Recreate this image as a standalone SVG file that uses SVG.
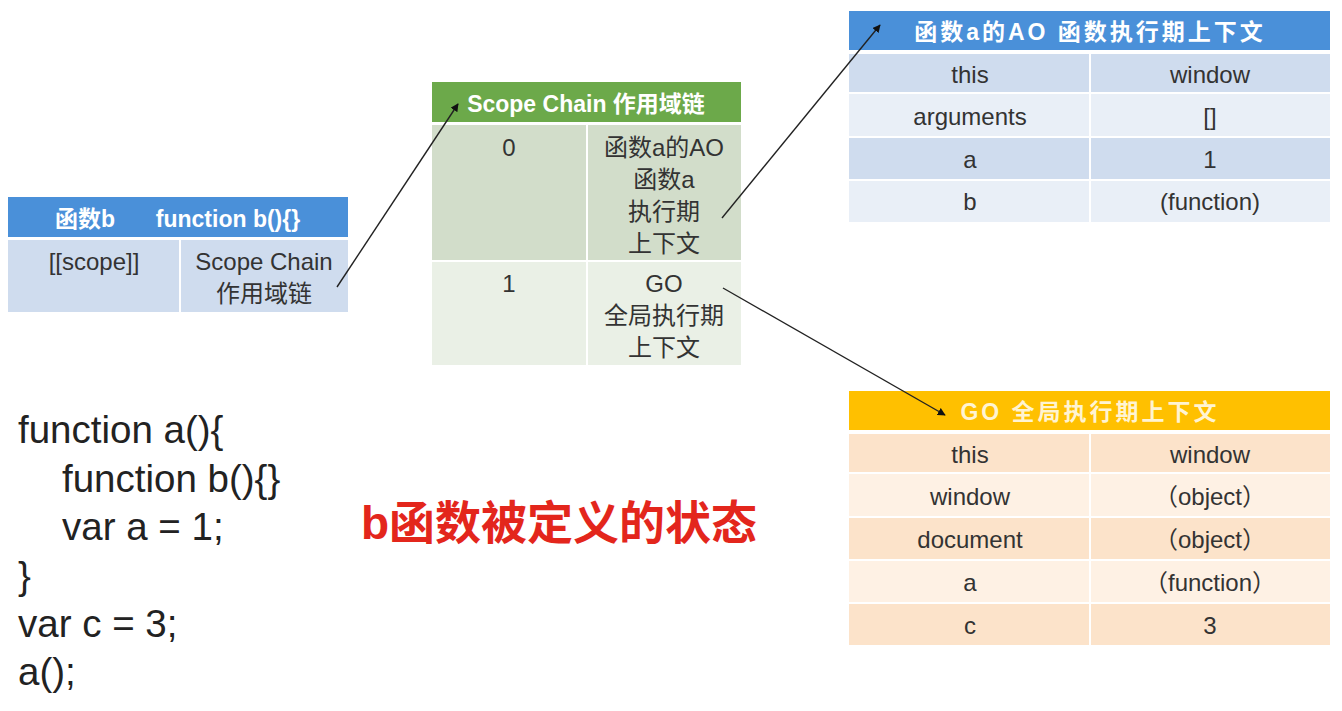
<svg xmlns="http://www.w3.org/2000/svg" width="1342" height="711" viewBox="0 0 1342 711">
  <style>
    text { font-family: "Liberation Sans", "Noto Sans CJK SC", sans-serif; fill: #333; }
    .cell { font-size: 24px; text-anchor: middle; }
    .head { font-size: 23px; font-weight: bold; fill: #fff; text-anchor: middle; }
    .code { font-size: 38.5px; fill: #222; }
    .title { font-size: 46px; font-weight: bold; fill: #e3261c; }
    .sep { stroke: #fff; stroke-width: 2; }
    .hBlue { fill: #4a90d9; }
    .rBlueD { fill: #cfdcee; }
    .rBlueL { fill: #e9eff7; }
    .hGreen { fill: #6ca94a; }
    .rGreenD { fill: #d2ddca; }
    .rGreenL { fill: #eaf0e6; }
    .hOrange { fill: #ffc000; }
    .rOrangeD { fill: #fce3ca; }
    .rOrangeL { fill: #fef1e4; }
    .conn { stroke: #222; stroke-width: 1.4; fill: none; marker-end: url(#arrow); }
  </style>
  <defs>
    <marker id="arrow" viewBox="0 0 10 10" refX="9" refY="5" markerWidth="8" markerHeight="8" orient="auto" markerUnits="userSpaceOnUse">
      <path d="M0,0 L10,5 L0,10 z" fill="#111"/>
    </marker>
  </defs>

  <rect width="1342" height="711" fill="#fff"/>

  <!-- function b object -->
  <g id="node-func-b">
    <rect class="hBlue" x="8" y="197" width="340" height="40"/>
    <text class="head" x="85" y="227">函数b</text>
    <text class="head" x="228" y="227">function b(){}</text>
    <rect class="rBlueD" x="8" y="240" width="340" height="72"/>
    <line class="sep" x1="180" y1="240" x2="180" y2="312"/>
    <text class="cell" x="94" y="270">[[scope]]</text>
    <text class="cell" x="264" y="270">Scope Chain</text>
    <text class="cell" x="264" y="302">作用域链</text>
  </g>

  <!-- scope chain list -->
  <g id="node-scope-chain">
    <rect class="hGreen" x="432" y="82" width="309" height="40"/>
    <text class="head" x="586" y="112">Scope Chain 作用域链</text>
    <rect class="rGreenD" x="432" y="125" width="309" height="135"/>
    <rect class="rGreenL" x="432" y="262" width="309" height="103"/>
    <line class="sep" x1="587" y1="125" x2="587" y2="365"/>
    <text class="cell" x="509" y="156">0</text>
    <text class="cell" x="664" y="156">函数a的AO</text>
    <text class="cell" x="664" y="188">函数a</text>
    <text class="cell" x="664" y="220">执行期</text>
    <text class="cell" x="664" y="252">上下文</text>
    <text class="cell" x="509" y="292">1</text>
    <text class="cell" x="664" y="292">GO</text>
    <text class="cell" x="664" y="324">全局执行期</text>
    <text class="cell" x="664" y="356">上下文</text>
  </g>

  <!-- activation object of a -->
  <g id="node-ao">
    <rect class="hBlue" x="849" y="11" width="481" height="39"/>
    <text class="head" x="1090" y="40" letter-spacing="3">函数a的AO 函数执行期上下文</text>
    <rect class="rBlueD" x="849" y="54" width="481" height="38"/>
    <rect class="rBlueL" x="849" y="94" width="481" height="42"/>
    <rect class="rBlueD" x="849" y="138" width="481" height="41"/>
    <rect class="rBlueL" x="849" y="181" width="481" height="41"/>
    <line class="sep" x1="1090" y1="54" x2="1090" y2="222"/>
    <text class="cell" x="970" y="83">this</text>
    <text class="cell" x="1210" y="83">window</text>
    <text class="cell" x="970" y="125">arguments</text>
    <text class="cell" x="1210" y="125">[]</text>
    <text class="cell" x="970" y="168">a</text>
    <text class="cell" x="1210" y="168">1</text>
    <text class="cell" x="970" y="210">b</text>
    <text class="cell" x="1210" y="210">(function)</text>
  </g>

  <!-- global object -->
  <g id="node-go">
    <rect class="hOrange" x="849" y="391" width="481" height="39"/>
    <text class="head" x="1090" y="420" letter-spacing="3" style="fill:#fff4d2">GO 全局执行期上下文</text>
    <rect class="rOrangeD" x="849" y="434" width="481" height="38"/>
    <rect class="rOrangeL" x="849" y="474" width="481" height="42"/>
    <rect class="rOrangeD" x="849" y="518" width="481" height="41"/>
    <rect class="rOrangeL" x="849" y="561" width="481" height="41"/>
    <rect class="rOrangeD" x="849" y="604" width="481" height="41"/>
    <line class="sep" x1="1090" y1="434" x2="1090" y2="645"/>
    <text class="cell" x="970" y="463">this</text>
    <text class="cell" x="1210" y="463">window</text>
    <text class="cell" x="970" y="505">window</text>
    <text class="cell" x="1210" y="505">（object）</text>
    <text class="cell" x="970" y="548">document</text>
    <text class="cell" x="1210" y="548">（object）</text>
    <text class="cell" x="970" y="591">a</text>
    <text class="cell" x="1210" y="591">（function）</text>
    <text class="cell" x="970" y="634">c</text>
    <text class="cell" x="1210" y="634">3</text>
  </g>

  <!-- references between objects -->
  <g id="connectors">
    <line class="conn" x1="337" y1="287" x2="458" y2="104"/>
    <line class="conn" x1="722" y1="218" x2="880" y2="25"/>
    <line class="conn" x1="723" y1="288" x2="945" y2="415"/>
  </g>

  <!-- source code -->
  <g id="code">
    <text class="code" x="18" y="443">function a(){</text>
    <text class="code" x="62" y="492">function b(){}</text>
    <text class="code" x="62" y="540">var a = 1;</text>
    <text class="code" x="18" y="589">}</text>
    <text class="code" x="18" y="637">var c = 3;</text>
    <text class="code" x="18" y="685">a();</text>
  </g>

  <text id="caption" class="title" x="361" y="539">b函数被定义的状态</text>
</svg>
